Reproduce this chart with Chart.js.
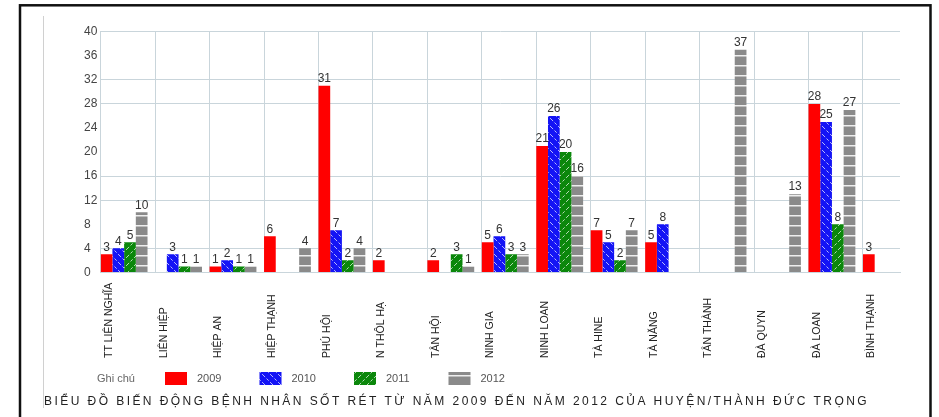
<!DOCTYPE html>
<html lang="vi">
<head>
<meta charset="utf-8">
<title>Biểu đồ biến động bệnh nhân sốt rét</title>
<script src="https://cdn.jsdelivr.net/npm/chart.js@4.4.1/dist/chart.umd.min.js"></script>
<style>
  html, body { margin: 0; padding: 0; background: #fff; }
  canvas { display: block; }
</style>
</head>
<body>
<canvas id="malariaChart" width="939" height="417"></canvas>
<script>
// Số bệnh nhân sốt rét theo xã/thị trấn, 2009 - 2012
const communes = ['TT LIÊN NGHĨA', 'LIÊN HIỆP', 'HIỆP AN', 'HIỆP THẠNH', 'PHÚ HỘI', 'N THÔL HẠ', 'TÂN HỘI',
    'NINH GIA', 'NINH LOAN', 'TÀ HINE', 'TÀ NĂNG', 'TÂN THÀNH', 'ĐÀ QUYN', 'ĐÀ LOAN', 'BÌNH THẠNH'];
const years = ['2009', '2010', '2011', '2012'];
const cases2009 = [3, 0, 1, 6, 31, 2, 2, 5, 21, 7, 5, 0, 0, 28, 3];
const cases2010 = [4, 3, 2, 0, 7, 0, 0, 6, 26, 5, 8, 0, 0, 25, 0];
const cases2011 = [5, 1, 1, 0, 2, 0, 3, 3, 20, 2, 0, 0, 0, 8, 0];
const cases2012 = [10, 1, 1, 4, 4, 0, 1, 3, 16, 7, 0, 37, 13, 27, 0];
const yTicks = [0, 4, 8, 12, 16, 20, 24, 28, 32, 36, 40];
const gridRows = [4, 12, 16, 28, 32, 40];
const chartTitle = 'BIỂU ĐỒ BIẾN ĐỘNG BỆNH NHÂN SỐT RÉT TỪ NĂM 2009 ĐẾN NĂM 2012 CỦA HUYỆN/THÀNH ĐỨC TRỌNG';
const legendCaption = 'Ghi chú';

const FONT = "'Liberation Sans', Arial, sans-serif";
const GRID = '#c9d5db';

// hatch fills for the bars
function makePattern(base, w, h, drawLines) {
    const c = document.createElement('canvas');
    c.width = w; c.height = h;
    const g = c.getContext('2d');
    g.fillStyle = base;
    g.fillRect(0, 0, w, h);
    g.strokeStyle = 'rgba(255,255,255,0.7)';
    g.fillStyle = 'rgba(255,255,255,0.85)';
    g.lineWidth = 1;
    drawLines(g, w, h);
    return g.createPattern(c, 'repeat');
}

const fillRed = '#ff0000';
const fillBlue = makePattern('#1414f5', 8, 8, (g) => {
    g.setLineDash([3, 2]);
    g.beginPath();
    g.moveTo(-1, -1); g.lineTo(9, 9);
    g.stroke();
});
const fillGreen = makePattern('#0b870b', 8, 8, (g) => {
    g.setLineDash([3, 2]);
    g.beginPath();
    g.moveTo(-1, 9); g.lineTo(9, -1);
    g.stroke();
});
const fillGray = makePattern('#8a8a8a', 8, 10, (g, w) => {
    g.fillRect(0, 5, w, 1.5);
});
const fills = [fillRed, fillBlue, fillGreen, fillGray];
const series = [cases2009, cases2010, cases2011, cases2012];

// bars sit at the left of each commune slot, so the group is shifted inside the slot
const GROUP = 0.86;
const datasets = series.map((values, k) => ({
    label: years[k],
    data: values.map((v, i) => ({ x: i + GROUP / 2, y: v })),
    backgroundColor: fills[k],
    borderWidth: 0,
    categoryPercentage: GROUP,
    barPercentage: 1
}));

// numbers above the bars
const valueLabels = {
    id: 'valueLabels',
    afterDatasetsDraw(chart) {
        const ctx = chart.ctx;
        ctx.save();
        ctx.font = '12px ' + FONT;
        ctx.fillStyle = '#333';
        ctx.textAlign = 'center';
        ctx.textBaseline = 'bottom';
        chart.data.datasets.forEach((ds, k) => {
            chart.getDatasetMeta(k).data.forEach((bar, i) => {
                const v = ds.data[i].y;
                if (v > 0) ctx.fillText(String(v), bar.x, bar.y - 1);
            });
        });
        ctx.restore();
    }
};

// frame, vertical commune names, legend row and bottom title
const decorations = {
    id: 'decorations',
    beforeDraw(chart) {
        const ctx = chart.ctx;
        ctx.save();
        ctx.fillStyle = '#fff';
        ctx.fillRect(0, 0, chart.width, chart.height);
        ctx.restore();
    },
    afterDraw(chart) {
        const ctx = chart.ctx;
        const x = chart.scales.x;
        ctx.save();

        // outer frame and the thin inner edge
        ctx.strokeStyle = '#111';
        ctx.lineWidth = 2.5;
        ctx.strokeRect(20, 5.3, 910.5, 430);
        ctx.strokeStyle = '#d0d0d0';
        ctx.lineWidth = 1;
        ctx.beginPath();
        ctx.moveTo(43.5, 16); ctx.lineTo(43.5, 408);
        ctx.stroke();

        // commune names, read bottom to top
        ctx.font = '10.5px ' + FONT;
        ctx.fillStyle = '#222';
        ctx.textAlign = 'left';
        ctx.textBaseline = 'middle';
        communes.forEach((name, i) => {
            ctx.save();
            ctx.translate(x.getPixelForValue(i) + 8.5, 358);
            ctx.rotate(-Math.PI / 2);
            ctx.fillText(name, 0, 0);
            ctx.restore();
        });

        // legend
        const ly = 372, step = 94.5, lx = 165;
        ctx.font = '11px ' + FONT;
        ctx.fillStyle = '#666';
        ctx.textBaseline = 'middle';
        ctx.fillText(legendCaption, 97, ly + 6.5);
        years.forEach((yr, k) => {
            const bx = lx + k * step;
            ctx.fillStyle = fills[k];
            ctx.fillRect(bx, ly, 22, 13);
            ctx.fillStyle = '#555';
            ctx.fillText(yr, bx + 32, ly + 6.5);
        });

        // title under the legend, stretched across the frame
        ctx.font = '12px ' + FONT;
        ctx.fillStyle = '#222';
        ctx.textBaseline = 'middle';
        const plain = ctx.measureText(chartTitle).width;
        const target = 823;
        if ('letterSpacing' in ctx) {
            ctx.letterSpacing = ((target - plain) / (chartTitle.length - 1)).toFixed(2) + 'px';
        }
        ctx.fillText(chartTitle, 44, 402);
        ctx.restore();
    }
};

new Chart(document.getElementById('malariaChart'), {
    type: 'bar',
    data: { datasets: datasets },
    options: {
        responsive: false,
        animation: false,
        layout: { padding: { left: 84, right: 39, top: 31.7, bottom: 0 } },
        plugins: {
            legend: { display: false },
            tooltip: { enabled: false }
        },
        scales: {
            x: {
                type: 'linear',
                offset: false,
                min: 0,
                max: communes.length - 0.32,
                afterBuildTicks: (s) => { s.ticks = communes.map((_, i) => ({ value: i })); },
                afterFit: (s) => { s.height = 144.6; },
                ticks: { display: false },
                grid: { offset: false, color: GRID, drawTicks: false },
                border: { color: GRID }
            },
            y: {
                min: 0,
                max: 40,
                afterBuildTicks: (s) => { s.ticks = yTicks.map((v) => ({ value: v })); },
                afterFit: (s) => { s.width = 16.7; },
                ticks: {
                    crossAlign: 'far',
                    color: '#444',
                    font: { family: FONT, size: 12 }
                },
                grid: {
                    drawTicks: false,
                    color: (c) => (gridRows.includes(c.tick.value) ? GRID : 'rgba(0,0,0,0)')
                },
                border: { color: GRID }
            }
        }
    },
    plugins: [decorations, valueLabels]
});
</script>
</body>
</html>
